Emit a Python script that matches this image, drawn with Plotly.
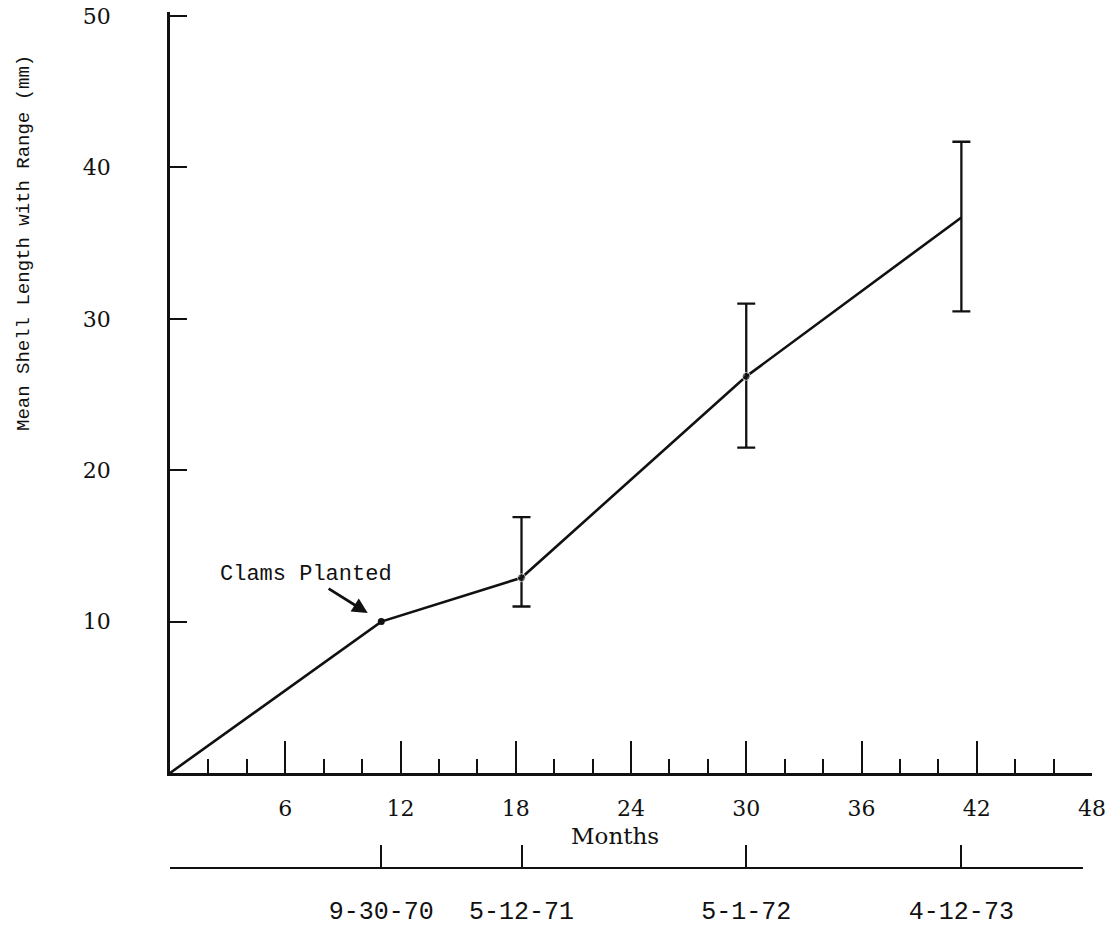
import plotly.graph_objects as go

# ---- data ----
months = [0, 11, 18.3, 30, 41.2]
mean_len = [0, 10, 12.9, 26.2, 36.7]

planted_month = [11]
planted_mean = [10]

range_months = [18.3, 30, 41.2]
range_mean = [12.9, 26.2, 36.7]
range_hi = [16.9, 31.0, 41.7]
range_lo = [11.0, 21.5, 30.5]

x_ticks = [6, 12, 18, 24, 30, 36, 42, 48]
y_ticks = [10, 20, 30, 40, 50]

date_months = [11, 18.3, 30, 41.2]
date_labels = ["9-30-70", "5-12-71", "5-1-72", "4-12-73"]

INK = "#111111"
SERIF = "DejaVu Serif"
MONO = "Liberation Mono"

err_plus = [h - m for h, m in zip(range_hi, range_mean)]
err_minus = [m - l for m, l in zip(range_mean, range_lo)]

fig = go.Figure()
fig.add_trace(go.Scatter(x=months, y=mean_len, mode="lines",
                         line=dict(color=INK, width=2.6), hoverinfo="skip",
                         showlegend=False))
fig.add_trace(go.Scatter(x=planted_month, y=planted_mean, mode="markers",
                         marker=dict(color=INK, size=7),
                         showlegend=False, hoverinfo="skip"))
fig.add_trace(go.Scatter(x=range_months, y=range_mean, mode="markers",
                         marker=dict(color=INK, size=[8, 8, 0]),
                         error_y=dict(type="data", symmetric=False,
                                      array=err_plus, arrayminus=err_minus,
                                      color=INK, thickness=2.3, width=9),
                         showlegend=False, hoverinfo="skip"))
# invisible trace anchoring the date axis
fig.add_trace(go.Scatter(x=date_months, y=mean_len[1:], mode="markers",
                         marker=dict(opacity=0), xaxis="x2", yaxis="y",
                         showlegend=False, hoverinfo="skip"))

L, R, T, B = 170, 21, 12, 63
W, H = 1113, 931
plot_h = H - T - B
plot_w = W - L - R
y_bottom_px = 773
ydom0 = (H - B - y_bottom_px) / plot_h
x2_end = (1083 - L) / plot_w

fig.update_layout(
    width=W, height=H,
    margin=dict(l=L, r=R, t=T, b=B, autoexpand=False),
    plot_bgcolor="rgba(0,0,0,0)", paper_bgcolor="white",
    xaxis=dict(range=[0, 48], domain=[0, 1], anchor="y", automargin=False,
               showgrid=False, zeroline=False,
               showline=True, linecolor=INK, linewidth=2.5,
               tickmode="array", tickvals=x_ticks,
               ticktext=[str(v) for v in x_ticks],
               ticks="inside", ticklen=32, tickwidth=2, tickcolor=INK,
               minor=dict(dtick=2, tick0=0, ticks="inside", ticklen=14,
                          tickwidth=1.6, tickcolor=INK, showgrid=False),
               tickfont=dict(family=SERIF, size=22, color=INK),
               ticklabelstandoff=14),
    xaxis2=dict(range=[0, 48 * x2_end], domain=[0, x2_end],
                anchor="free", position=0, automargin=False,
                showgrid=False, zeroline=False,
                showline=True, linecolor=INK, linewidth=2.2,
                tickmode="array", tickvals=date_months, ticktext=date_labels,
                ticks="inside", ticklen=22, tickwidth=2, tickcolor=INK,
                tickfont=dict(family=MONO, size=25, color=INK),
                ticklabelstandoff=20),
    yaxis=dict(range=[0, 50.27], domain=[ydom0, 1], anchor="x",
               automargin=False,
               showgrid=False, zeroline=False,
               showline=True, linecolor=INK, linewidth=2.5,
               tickmode="array", tickvals=y_ticks,
               ticktext=[str(v) for v in y_ticks],
               ticks="inside", ticklen=17, tickwidth=2.2, tickcolor=INK,
               tickfont=dict(family=SERIF, size=22, color=INK),
               ticklabelstandoff=52),
    annotations=[
        dict(text="Mean Shell Length with Range (mm)", textangle=-90,
             xref="paper", yref="paper",
             x=(24 - L) / plot_w, y=(H - B - 243) / plot_h,
             xanchor="center", yanchor="middle", showarrow=False,
             font=dict(family=MONO, size=19, color=INK)),
        dict(text="Months", xref="paper", yref="paper",
             x=(615 - L) / plot_w, y=(H - B - 836) / plot_h,
             xanchor="center", yanchor="middle", showarrow=False,
             font=dict(family=SERIF, size=23, color=INK)),
        dict(text="Clams Planted", x=planted_month[0], y=planted_mean[0],
             xref="x", yref="y", ax=-75, ay=-47, showarrow=True,
             arrowhead=2, arrowsize=1.1, arrowwidth=2.8, arrowcolor=INK,
             standoff=16,
             font=dict(family=MONO, size=22, color=INK)),
    ],
)

fig.write_html("out.html",
               config={"displayModeBar": False},
               post_script="document.body.style.margin='0';"
                           "document.body.style.overflow='hidden';")
